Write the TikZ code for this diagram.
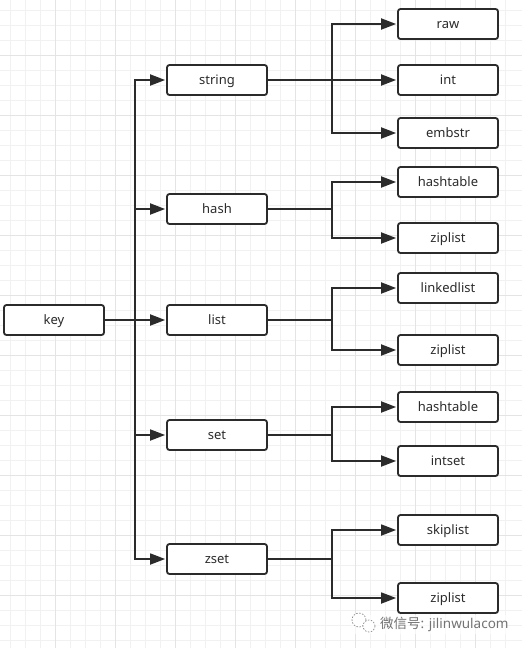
\documentclass[tikz,border=0pt]{standalone}
\usepackage{fontspec}
\setmainfont{Noto Sans}
\newfontfamily\cjk{Noto Sans CJK SC}
\usetikzlibrary{arrows.meta}
\definecolor{ink}{HTML}{2B2B2B}
\definecolor{gridminor}{HTML}{F1F1F1}
\definecolor{gridmajor}{HTML}{E4E4E4}
\tikzset{
  x=1pt,y=-1pt,
  box/.style={draw=ink,line width=1.8pt,rounded corners=2.5pt,fill=white,minimum width=100pt,minimum height=30pt,inner sep=0pt,text=ink,text height=12pt,text depth=3pt,font=\fontsize{13pt}{15pt}\selectfont},
  conn/.style={draw=ink,line width=1.8pt,shorten >=1pt,-{Triangle[length=15pt,width=11pt]}},
  plainconn/.style={draw=ink,line width=1.8pt},
}
\begin{document}
\begin{tikzpicture}
\useasboundingbox (0,0) rectangle (522,648);
\fill[white] (0,0) rectangle (522,648);
\foreach \v in {10.7,25.7,...,520}{\draw[gridminor,line width=1pt] (\v,0)--(\v,648);}
\foreach \v in {10.7,25.7,...,646}{\draw[gridminor,line width=1pt] (0,\v)--(522,\v);}
\foreach \v in {55.7,115.7,...,520}{\draw[gridmajor,line width=1pt] (\v,0)--(\v,648);}
\foreach \v in {55.7,115.7,...,646}{\draw[gridmajor,line width=1pt] (0,\v)--(522,\v);}

\node[box] (key) at (54,320) {key};
\node[box] (string) at (217,80) {string};
\node[box] (hash) at (217,209) {hash};
\node[box] (list) at (217,320) {list};
\node[box] (set) at (217,435) {set};
\node[box] (zset) at (217,559) {zset};

\node[box] (raw) at (448,24) {raw};
\node[box] (int) at (448,80) {int};
\node[box] (embstr) at (448,133) {embstr};
\node[box] (hashtableA) at (448,182) {hashtable};
\node[box] (ziplistA) at (448,238) {ziplist};
\node[box] (linkedlist) at (448,288) {linkedlist};
\node[box] (ziplistB) at (448,350) {ziplist};
\node[box] (hashtableB) at (448,407) {hashtable};
\node[box] (intset) at (448,461) {intset};
\node[box] (skiplist) at (448,530) {skiplist};
\node[box] (ziplistC) at (448,598) {ziplist};

\coordinate (trunk) at (135,320);
\draw[conn] (key.east) -- (list.west);
\draw[conn] (trunk) |- (string.west);
\draw[conn] (trunk) |- (hash.west);
\draw[conn] (trunk) |- (set.west);
\draw[conn] (trunk) |- (zset.west);

\coordinate (busS) at (332,80);
\draw[conn] (string.east) -- (int.west);
\draw[conn] (busS) |- (raw.west);
\draw[conn] (busS) |- (embstr.west);

\coordinate (busH) at (332,209);
\draw[plainconn] (hash.east) -- (busH);
\draw[conn] (busH) |- (hashtableA.west);
\draw[conn] (busH) |- (ziplistA.west);

\coordinate (busL) at (332,320);
\draw[plainconn] (list.east) -- (busL);
\draw[conn] (busL) |- (linkedlist.west);
\draw[conn] (busL) |- (ziplistB.west);

\coordinate (busT) at (332,435);
\draw[plainconn] (set.east) -- (busT);
\draw[conn] (busT) |- (hashtableB.west);
\draw[conn] (busT) |- (intset.west);

\coordinate (busZ) at (332,559);
\draw[plainconn] (zset.east) -- (busZ);
\draw[conn] (busZ) |- (skiplist.west);
\draw[conn] (busZ) |- (ziplistC.west);

% watermark
\fill[white,opacity=.6] (351,615) rectangle (507,634);
\draw[black!45,line width=.7pt,dash pattern=on 1.5pt off 1.5pt,fill=white] (359,620) circle (7);
\draw[black!45,line width=.7pt,dash pattern=on 1.5pt off 1.5pt,fill=white] (369,626) circle (6);
\node[anchor=west,inner sep=0pt,text=black!55,font=\fontsize{13.5pt}{15pt}\selectfont] (mark) at (380,624.5) {{\cjk 微信号}: jilinwulacom};
\end{tikzpicture}
\end{document}
